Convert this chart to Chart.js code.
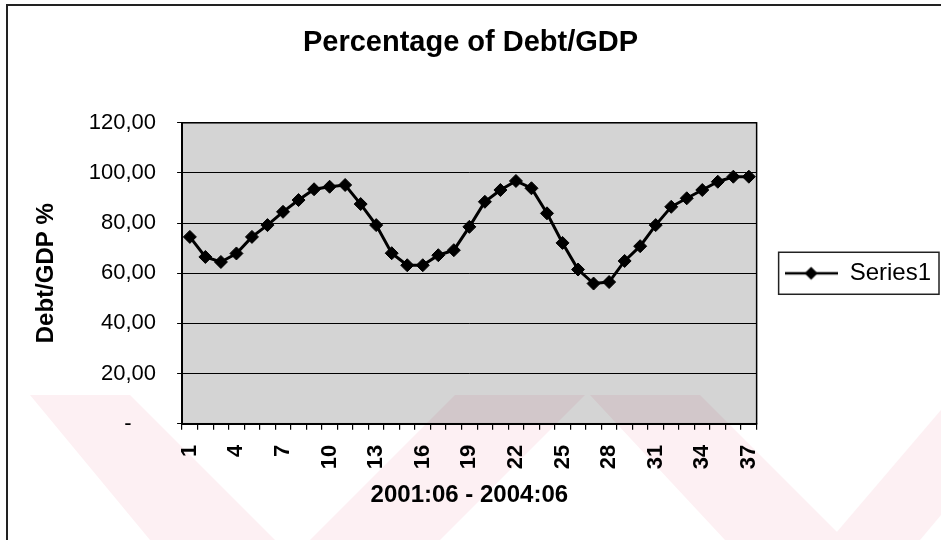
<!DOCTYPE html>
<html>
<head>
<meta charset="utf-8">
<title>Percentage of Debt/GDP</title>
<script src="https://cdn.jsdelivr.net/npm/chart.js@4.4.1/dist/chart.umd.min.js"></script>
<style>
  html, body { margin: 0; padding: 0; background: #fff; }
  #wrap { position: relative; width: 941px; height: 540px; overflow: hidden; }
  #mark, #chart { position: absolute; left: 0; top: 0; }
  #frame { position: absolute; left: 6px; top: 4px; right: -10px; bottom: -10px;
           border-left: 2px solid #222; border-top: 2px solid #222; pointer-events: none; }
</style>
</head>
<body>
<div id="wrap">
  <!-- faint pink watermark of the scanned page -->
  <svg id="mark" width="941" height="540">
    <g fill="#fdf0f3">
      <polygon points="30,395 130,395 275,540 150,540"/>
      <polygon points="310,540 440,540 585,395 455,395"/>
      <polygon points="590,395 700,395 845,540 725,540"/>
      <polygon points="830,540 920,540 941,515 941,410"/>
    </g>
  </svg>
  <canvas id="chart" width="941" height="540"></canvas>
  <div id="frame"></div>
</div>
<script>
// months 2001:06 .. 2004:06 numbered 1..37
const periods = ['1','2','3','4','5','6','7','8','9','10','11','12','13','14','15','16','17','18','19',
  '20','21','22','23','24','25','26','27','28','29','30','31','32','33','34','35','36','37'];

// Debt/GDP %
const debtGdp = [74.5, 66.5, 64.5, 67.9, 74.5, 79.2, 84.5, 89.2, 93.5, 94.5, 95.2, 87.6, 79.2,
  68.0, 63.2, 63.2, 67.2, 69.2, 78.5, 88.5, 93.2, 96.8, 93.9, 83.9, 72.1, 61.5, 55.9, 56.5,
  64.9, 70.8, 79.2, 86.5, 89.9, 93.2, 96.5, 98.5, 98.5];

const yTicks = [0, 20, 40, 60, 80, 100, 120];

const FONT = 'Liberation Sans, Arial, Helvetica, sans-serif';

// legend sample: line with a diamond marker (Excel style)
const legendIcon = document.createElement('canvas');
legendIcon.width = 53;
legendIcon.height = 16;
const ic = legendIcon.getContext('2d');
ic.strokeStyle = '#000';
ic.lineWidth = 2.5;
ic.beginPath(); ic.moveTo(0, 8); ic.lineTo(53, 8); ic.stroke();
ic.fillStyle = '#000';
ic.beginPath(); ic.moveTo(26.5, 1.5); ic.lineTo(33, 8); ic.lineTo(26.5, 14.5); ic.lineTo(20, 8); ic.closePath(); ic.fill();

// grey plot background + outline of the plot area
const plotArea = {
  id: 'plotArea',
  beforeDraw(chart) {
    const { ctx, chartArea: a } = chart;
    ctx.save();
    ctx.fillStyle = 'rgba(0,0,0,0.17)';
    ctx.fillRect(a.left, a.top, a.width, a.height);
    ctx.restore();
  },
  beforeDatasetsDraw(chart) {
    const { ctx, chartArea: a } = chart;
    ctx.save();
    ctx.strokeStyle = '#000';
    ctx.lineWidth = 1.5;
    ctx.strokeRect(a.left, a.top, a.width, a.height);
    ctx.restore();
  }
};

// box around the legend
const legendFrame = {
  id: 'legendFrame',
  afterDraw(chart) {
    const hb = chart.legend && chart.legend.legendHitBoxes[0];
    if (!hb) return;
    const ctx = chart.ctx;
    ctx.save();
    ctx.strokeStyle = '#222';
    ctx.lineWidth = 1.5;
    ctx.strokeRect(hb.left - 6, hb.top - 9, hb.width + 14, hb.height + 18);
    ctx.restore();
  }
};

new Chart(document.getElementById('chart'), {
  type: 'line',
  data: {
    labels: periods,
    datasets: [{
      label: 'Series1',
      data: debtGdp,
      borderColor: '#000',
      borderWidth: 3,
      tension: 0,
      pointStyle: 'rectRot',
      pointRadius: 6.5,
      pointBackgroundColor: '#000',
      pointBorderColor: '#000',
      pointBorderWidth: 1
    }]
  },
  options: {
    responsive: false,
    animation: false,
    layout: { padding: { left: 0, right: 0, top: 0, bottom: 0 } },
    plugins: {
      title: {
        display: true,
        text: 'Percentage of Debt/GDP',
        color: '#000',
        font: { family: FONT, size: 29, weight: 'bold' },
        padding: { top: 26, bottom: 62 }
      },
      legend: {
        position: 'right',
        fullSize: false,
        labels: {
          usePointStyle: true,
          pointStyle: legendIcon,
          pointStyleWidth: 53,
          padding: 28,
          color: '#000',
          font: { family: FONT, size: 24 }
        }
      },
      tooltip: { enabled: false }
    },
    scales: {
      x: {
        offset: true,
        grid: { display: true, offset: true, drawOnChartArea: false, color: '#000', tickLength: 6, lineWidth: 1.2 },
        border: { display: true, color: '#000', width: 2 },
        ticks: {
          autoSkip: false,
          minRotation: 90,
          maxRotation: 90,
          padding: 15,
          color: '#000',
          font: { family: FONT, size: 22, weight: 'bold' },
          callback: (v, i) => (i % 3 === 0 ? periods[i] : '')
        },
        title: {
          display: true,
          text: '2001:06 - 2004:06',
          color: '#000',
          font: { family: FONT, size: 24, weight: 'bold' },
          padding: { top: -3, bottom: 30 }
        }
      },
      y: {
        min: 0,
        max: 120,
        afterBuildTicks: s => { s.ticks = yTicks.map(v => ({ value: v })); },
        grid: { color: '#000', lineWidth: 1, tickLength: 5 },
        border: { display: true, color: '#000', width: 2 },
        ticks: {
          padding: 21,
          color: '#000',
          font: { family: FONT, size: 22 },
          callback: v => (v === 0 ? '-    ' : v.toFixed(2).replace('.', ','))
        },
        title: {
          display: true,
          text: 'Debt/GDP %',
          color: '#000',
          font: { family: FONT, size: 24, weight: 'bold' },
          padding: { top: 32, bottom: 7 }
        }
      }
    }
  },
  plugins: [plotArea, legendFrame]
});
</script>
</body>
</html>
